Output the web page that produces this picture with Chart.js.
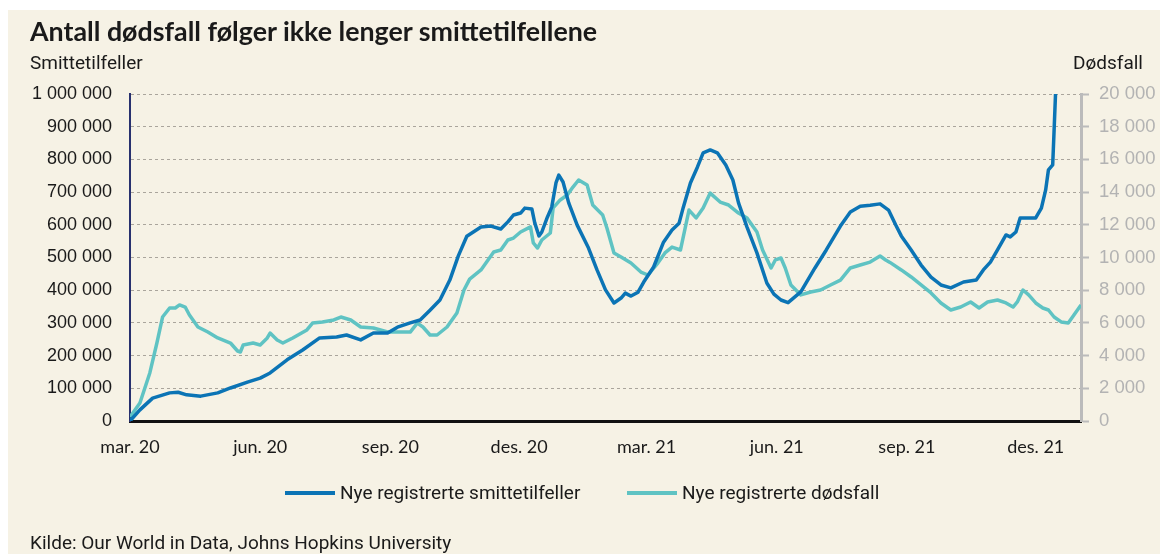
<!DOCTYPE html>
<html lang="no">
<head>
<meta charset="utf-8">
<script src="https://cdn.jsdelivr.net/npm/chart.js@4.4.1/dist/chart.umd.min.js"></script>
<style>
  html, body { margin: 0; padding: 0; background: #fff; }
  .frame { position: absolute; left: 8px; top: 10px; width: 1152px; height: 544px; background: #f6f2e5; overflow: hidden; }
  .frame canvas { position: absolute; left: 0; top: 0; }
  .txt { position: absolute; color: #1a1a1a; white-space: nowrap; }
  #title { left: 22px; top: 5px; font: 700 26.8px "Lato", sans-serif; }
  #leftTitle { left: 22px; top: 41px; font: 19px "Roboto", sans-serif; }
  #rightTitle { right: 17px; top: 41px; font: 19px "Roboto", sans-serif; }
  #source { left: 22px; top: 521px; font: 19px "Roboto", sans-serif; }
  .legend { position: absolute; top: 471px; font: 19px "Roboto", sans-serif; color: #1a1a1a; line-height: 24px; white-space: nowrap; }
  .legend i { display: inline-block; width: 50px; height: 4px; vertical-align: middle; margin-right: 5px; position: relative; top: -1px; }
</style>
</head>
<body>
<div class="frame">
  <canvas id="covidChart" width="1152" height="544"></canvas>
  <div class="txt" id="title">Antall dødsfall følger ikke lenger smittetilfellene</div>
  <div class="txt" id="leftTitle">Smittetilfeller</div>
  <div class="txt" id="rightTitle">Dødsfall</div>
  <div class="legend" id="legend1" style="left: 277px;"><i id="swatch1"></i><span id="label1"></span></div>
  <div class="legend" id="legend2" style="left: 619px;"><i id="swatch2"></i><span id="label2"></span></div>
  <div class="txt" id="source">Kilde: Our World in Data, Johns Hopkins University</div>
</div>
<script>
// days counted from 1 March 2020
const tickDays = [0, 92, 184, 275, 365, 457, 549, 640];
const tickLabels = ['mar. 20', 'jun. 20', 'sep. 20', 'des. 20', 'mar. 21', 'jun. 21', 'sep. 21', 'des. 21'];

// Nye registrerte smittetilfeller (left axis)
const caseDays = [0, 7, 16, 28, 34, 40, 50, 62, 71, 83, 92, 99, 111, 122, 134, 146, 153, 163, 172, 182,
  189, 198, 205, 212, 219, 226, 232, 238, 248, 255, 262, 267, 271, 276, 279, 284, 286, 289, 291, 295,
  298, 301, 303, 306, 310, 316, 324, 330, 336, 342, 347, 350, 354, 359, 363, 370, 377, 383, 388, 391,
  396, 401, 405, 410, 415, 421, 426, 430, 436, 443, 450, 455, 460, 465, 474, 484, 492, 502, 509, 516,
  523, 530, 536, 541, 545, 552, 559, 566, 573, 580, 589, 598, 603, 608, 613, 619, 622, 626, 629, 635,
  640, 644, 647, 649, 652, 653, 654, 656];
const caseValues = [0, 34000, 70000, 86000, 88000, 80000, 76000, 86000, 101000, 119000, 131000, 147000, 187000, 217000, 254000, 257000, 263000, 248000, 269000, 269000,
  287000, 300000, 309000, 339000, 370000, 431000, 505000, 565000, 593000, 596000, 587000, 609000, 630000, 636000, 651000, 648000, 606000, 566000, 578000, 624000,
  654000, 728000, 752000, 731000, 667000, 599000, 529000, 462000, 401000, 361000, 376000, 391000, 382000, 394000, 425000, 471000, 547000, 584000, 605000, 654000,
  728000, 777000, 820000, 829000, 820000, 783000, 737000, 667000, 593000, 514000, 422000, 388000, 370000, 362000, 395000, 468000, 523000, 596000, 639000, 657000,
  660000, 664000, 645000, 600000, 566000, 523000, 477000, 440000, 416000, 407000, 425000, 431000, 462000, 486000, 523000, 569000, 563000, 578000, 621000, 621000,
  621000, 651000, 706000, 768000, 783000, 890000, 1000000, 1150000];

// Nye registrerte dødsfall (right axis)
const deathDays = [0, 7, 14, 19, 23, 28, 32, 35, 39, 42, 48, 55, 62, 71, 76, 78, 80, 87, 92, 97,
  99, 104, 108, 115, 125, 129, 136, 144, 149, 156, 163, 172, 182, 191, 198, 203, 207, 212, 217, 224,
  231, 236, 240, 248, 253, 257, 262, 267, 271, 276, 283, 285, 288, 291, 297, 299, 304, 309, 313, 317,
  323, 327, 334, 337, 342, 347, 354, 361, 366, 373, 378, 383, 389, 395, 400, 405, 410, 417, 423, 430,
  436, 443, 447, 453, 456, 460, 463, 467, 474, 481, 488, 495, 502, 509, 516, 523, 530, 534, 537, 545,
  552, 559, 566, 573, 580, 587, 594, 600, 606, 613, 619, 624, 627, 631, 635, 640, 645, 649, 653, 658,
  663, 667, 672];
const deathValues = [250, 1100, 2940, 4770, 6360, 6910, 6910, 7100, 6970, 6480, 5750, 5440, 5080, 4770, 4280, 4220, 4650, 4770, 4650, 5080,
  5380, 4950, 4770, 5080, 5570, 5990, 6060, 6180, 6360, 6180, 5750, 5690, 5440, 5440, 5440, 5990, 5750, 5260, 5260, 5750,
  6610, 8010, 8680, 9240, 9850, 10340, 10460, 11070, 11190, 11560, 11870, 10890, 10580, 11070, 11500, 13030, 13520, 13820, 14310, 14740,
  14430, 13210, 12600, 11800, 10280, 10030, 9660, 9110, 8930, 9660, 10280, 10640, 10460, 12900, 12420, 13030, 13940, 13390, 13210, 12720,
  12420, 11560, 10460, 9360, 9850, 9970, 9360, 8320, 7710, 7890, 8010, 8320, 8620, 9360, 9540, 9720, 10090, 9850, 9700, 9240,
  8810, 8320, 7830, 7220, 6790, 6970, 7280, 6910, 7280, 7400, 7220, 6970, 7280, 8010, 7710, 7220, 6910, 6790, 6360, 6060,
  5990, 6480, 7100];

const caseLabel = 'Nye registrerte smittetilfeller';
const deathLabel = 'Nye registrerte dødsfall';
const caseColor = '#0b74b5';
const deathColor = '#5fc3c3';

function fmt(v) {
    return String(v).replace(/\B(?=(\d{3})+(?!\d))/g, ' ');
}

document.addEventListener('DOMContentLoaded', function () {
    // Legend (html, below the chart)
    document.getElementById('swatch1').style.background = caseColor;
    document.getElementById('swatch2').style.background = deathColor;
    document.getElementById('label1').textContent = caseLabel;
    document.getElementById('label2').textContent = deathLabel;

    const ctx = document.getElementById('covidChart').getContext('2d');

    new Chart(ctx, {
        type: 'line',
        data: {
            datasets: [
                {
                    label: caseLabel,
                    data: caseDays.map((d, i) => ({ x: d, y: caseValues[i] })),
                    borderColor: caseColor,
                    borderWidth: 3.5,
                    pointRadius: 0,
                    tension: 0,
                    borderJoinStyle: 'round',
                    yAxisID: 'y'
                },
                {
                    label: deathLabel,
                    data: deathDays.map((d, i) => ({ x: d, y: deathValues[i] })),
                    borderColor: deathColor,
                    borderWidth: 3.5,
                    pointRadius: 0,
                    tension: 0,
                    borderJoinStyle: 'round',
                    yAxisID: 'y1'
                }
            ]
        },
        options: {
            responsive: false,
            animation: false,
            layout: { padding: { top: 84, left: 0, right: 0, bottom: 88 } },
            plugins: {
                tooltip: { enabled: false },
                legend: { display: false }
            },
            scales: {
                x: {
                    type: 'linear',
                    min: 0,
                    max: 672,
                    afterBuildTicks: scale => { scale.ticks = tickDays.map(v => ({ value: v })); },
                    afterFit: scale => { scale.height = 45; },
                    ticks: {
                        autoSkip: false,
                        maxRotation: 0,
                        padding: 15,
                        color: '#1a1a1a',
                        font: { family: 'Lato', size: 18 },
                        callback: value => tickLabels[tickDays.indexOf(value)]
                    },
                    grid: { display: false, drawTicks: false },
                    border: { display: true, color: '#111', width: 3 }
                },
                y: {
                    position: 'left',
                    min: 0,
                    max: 1000000,
                    afterFit: scale => { scale.width = 122; },
                    ticks: {
                        stepSize: 100000,
                        padding: 18,
                        color: '#1a1a1a',
                        font: { family: 'Liberation Sans', size: 18 },
                        callback: v => fmt(v)
                    },
                    grid: { color: '#aaa59c', lineWidth: 1, drawTicks: false },
                    border: { color: '#27306e', width: 2, dash: [3, 3] }
                },
                y1: {
                    position: 'right',
                    min: 0,
                    max: 20000,
                    afterFit: scale => { scale.width = 79; },
                    ticks: {
                        stepSize: 2000,
                        padding: 10,
                        color: '#b3b3b3',
                        font: { family: 'Liberation Sans', size: 18.5 },
                        callback: v => fmt(v)
                    },
                    grid: { drawOnChartArea: false, drawTicks: true, tickLength: 8, tickColor: '#bbbbbb', tickWidth: 2 },
                    border: { color: '#bbbbbb', width: 3 }
                }
            }
        }
    });
});
</script>
</body>
</html>
